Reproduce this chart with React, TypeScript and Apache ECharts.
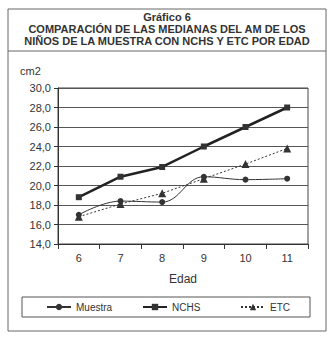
import React, { useEffect, useRef } from "react";
import * as echarts from "echarts";

const categories = ["6", "7", "8", "9", "10", "11"];
const muestra = [17.0, 18.4, 18.3, 20.9, 20.6, 20.7];
const nchs = [18.8, 20.9, 21.9, 24.0, 26.0, 28.0];
const etc = [16.8, 18.1, 19.2, 20.7, 22.2, 23.8];
const seriesNames = ["Muestra", "NCHS", "ETC"];
const titleLines = [
  "Gráfico 6",
  "COMPARACIÓN DE LAS MEDIANAS DEL AM DE LOS",
  "NIÑOS DE LA MUESTRA CON NCHS Y ETC POR EDAD",
];

export default function App() {
  const ref = useRef<HTMLDivElement>(null);
  useEffect(() => {
    if (!ref.current) return;
    const chart = echarts.init(ref.current, undefined, { renderer: "svg" });
    const font = "Liberation Sans, Arial, sans-serif";
    const ink = "#333";
    const legendBase = {
      top: 302,
      padding: 0,
      itemWidth: 24,
      itemHeight: 8,
      itemGap: 0,
      textStyle: { color: ink, fontSize: 10, fontFamily: font },
    };
    chart.setOption({
      animation: false,
      backgroundColor: "#fff",
      textStyle: { fontFamily: font },
      graphic: [
        { type: "rect", shape: { x: 8, y: 9, width: 318, height: 322 }, style: { fill: "none", stroke: "#666", lineWidth: 1 } },
        { type: "line", shape: { x1: 8, y1: 51, x2: 326, y2: 51 }, style: { stroke: "#666", lineWidth: 1 } },
        { type: "text", x: 167, y: 17, style: { text: titleLines[0], fill: ink, font: "bold 11px " + font, align: "center", verticalAlign: "middle" } },
        { type: "text", x: 167, y: 29, style: { text: titleLines[1], fill: ink, font: "bold 11px " + font, align: "center", verticalAlign: "middle" } },
        { type: "text", x: 167, y: 41, style: { text: titleLines[2], fill: ink, font: "bold 11px " + font, align: "center", verticalAlign: "middle" } },
        { type: "text", x: 20, y: 71, style: { text: "cm2", fill: ink, font: "11px " + font, verticalAlign: "middle" } },
        { type: "rect", shape: { x: 22, y: 297, width: 288, height: 20 }, style: { fill: "none", stroke: "#555", lineWidth: 1 } },
      ],
      grid: { left: 58, right: 28, top: 88, bottom: 96, show: true, borderColor: "#444", borderWidth: 1 },
      legend: [
        { ...legendBase, left: 46, data: [seriesNames[0]] },
        { ...legendBase, left: 142, data: [seriesNames[1]] },
        { ...legendBase, left: 240, data: [seriesNames[2]] },
      ],
      xAxis: {
        type: "category",
        data: categories,
        boundaryGap: true,
        name: "Edad",
        nameLocation: "middle",
        nameGap: 29,
        nameTextStyle: { color: ink, fontSize: 12, fontFamily: font },
        axisLine: { lineStyle: { color: "#333" } },
        axisTick: { show: true, length: 5, lineStyle: { color: "#333" } },
        axisLabel: { color: ink, fontSize: 11, margin: 8 },
      },
      yAxis: {
        type: "value",
        min: 14,
        max: 30,
        interval: 2,
        axisLine: { show: true, lineStyle: { color: "#333" } },
        axisTick: { show: true, length: 4, lineStyle: { color: "#333" } },
        axisLabel: { color: ink, fontSize: 11, margin: 7, formatter: (v: number) => v.toFixed(1).replace(".", ",") },
        splitLine: { lineStyle: { color: "#555", width: 1 } },
      },
      series: [
        {
          name: seriesNames[0],
          type: "line",
          data: muestra,
          smooth: 0.4,
          symbol: "circle",
          symbolSize: 6,
          itemStyle: { color: "#333" },
          lineStyle: { color: "#333", width: 1 },
        },
        {
          name: seriesNames[1],
          type: "line",
          data: nchs,
          symbol: "rect",
          symbolSize: 6,
          itemStyle: { color: "#333" },
          lineStyle: { color: "#222", width: 2.5 },
        },
        {
          name: seriesNames[2],
          type: "line",
          data: etc,
          symbol: "triangle",
          symbolSize: 8,
          itemStyle: { color: "#333" },
          lineStyle: { color: "#333", width: 1, type: [2, 2] },
        },
      ],
    });
    return () => chart.dispose();
  }, []);
  return <div ref={ref} style={{ position: "fixed", left: 0, top: 0, width: 336, height: 340 }} />;
}
